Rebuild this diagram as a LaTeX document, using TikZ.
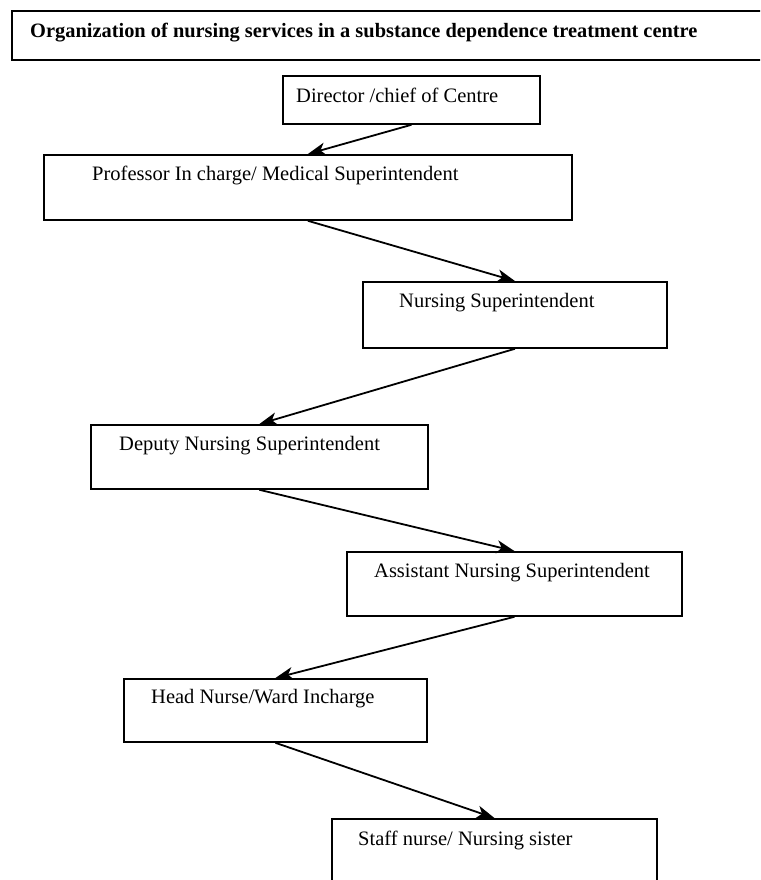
\documentclass[tikz,border=0pt]{standalone}
\usepackage{fontspec}
\setmainfont{Liberation Serif}
\usetikzlibrary{arrows.meta}
\tikzset{
  box/.style={draw=black, line width=1.8pt, rectangle, inner sep=0pt, anchor=north west},
  lbl/.style={inner sep=0pt, anchor=mid west, font=\fontsize{20.5}{24}\selectfont},
  ttl/.style={inner sep=0pt, anchor=mid west, font=\fontsize{20.4}{24}\selectfont\bfseries},
  conn/.style={line width=1.8pt, -{Stealth[length=18pt,width=13pt,inset=5pt]}}
}
\begin{document}
\begin{tikzpicture}[x=1pt,y=-1pt]
\useasboundingbox (0,0) rectangle (760,880);
\clip (0,0) rectangle (760,880);
% boxes
\node[box, minimum width=780pt, minimum height=49pt] (tbox) at (11,10) {};
\node[box, minimum width=257pt, minimum height=48pt] (dir) at (282,75) {};
\node[box, minimum width=528pt, minimum height=65pt] (prof) at (43,154) {};
\node[box, minimum width=304pt, minimum height=66pt] (ns) at (362,281) {};
\node[box, minimum width=337pt, minimum height=64pt] (dep) at (90,424) {};
\node[box, minimum width=335pt, minimum height=64pt] (asst) at (346,551) {};
\node[box, minimum width=303pt, minimum height=63pt] (head) at (123,678) {};
\node[box, minimum width=325pt, minimum height=66pt] (staff) at (331,818) {};
% texts
\node[ttl] (ttxt) at (30,35) {Organization of nursing services in a substance dependence treatment centre};
\node[lbl] (dirtxt) at (296,100) {Director /chief of Centre};
\node[lbl] (proftxt) at (92,178) {Professor In charge/ Medical Superintendent};
\node[lbl] (nstxt) at (399,305) {Nursing Superintendent};
\node[lbl] (deptxt) at (119,448) {Deputy Nursing Superintendent};
\node[lbl] (assttxt) at (374,575) {Assistant Nursing Superintendent};
\node[lbl] (headtxt) at (151,701) {Head Nurse/Ward Incharge};
\node[lbl] (stafftxt) at (358,843) {Staff nurse/ Nursing sister};
% connectors
\draw[conn] (dir.south) -- (prof.north);
\draw[conn] (prof.south) -- (ns.north);
\draw[conn] (ns.south) -- (dep.north);
\draw[conn] (dep.south) -- (asst.north);
\draw[conn] (asst.south) -- (head.north);
\draw[conn] (head.south) -- (staff.north);
\end{tikzpicture}
\end{document}
